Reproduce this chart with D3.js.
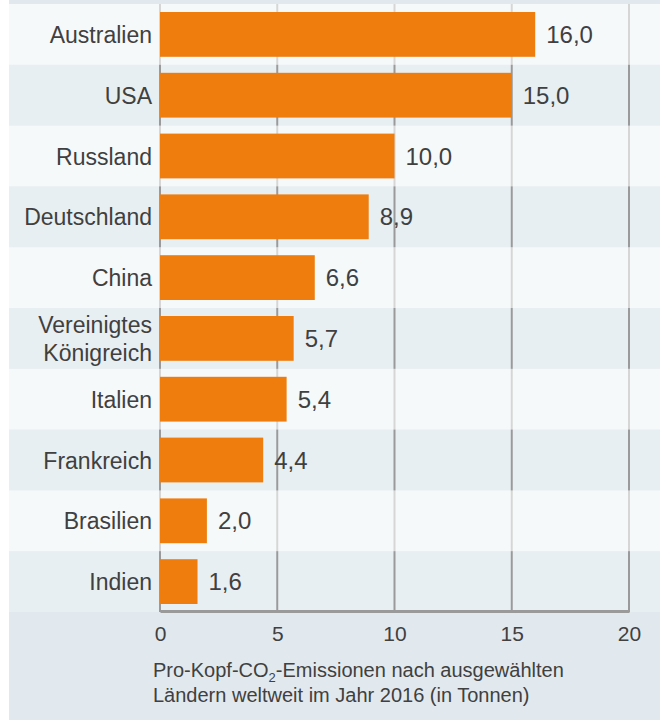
<!DOCTYPE html>
<html>
<head>
<meta charset="utf-8">
<script src="https://cdnjs.cloudflare.com/ajax/libs/d3/7.8.5/d3.min.js"></script>
<style>
  body { margin: 0; background: #fff; }
  text { font-family: "Liberation Sans", Arial, sans-serif; fill: #404040; }
</style>
</head>
<body>
<svg id="chart" width="660" height="720"></svg>
<script>
    // data
    var countries = ["Australien", "USA", "Russland", "Deutschland", "China",
                     "Vereinigtes Königreich", "Italien", "Frankreich", "Brasilien", "Indien"];
    var emissions = [16.0, 15.0, 10.0, 8.9, 6.6, 5.7, 5.4, 4.4, 2.0, 1.6];
    var xTicks = [0, 5, 10, 15, 20];
    var captionLines = ["Pro-Kopf-CO|2|-Emissionen nach ausgewählten",
                        "Ländern weltweit im Jahr 2016 (in Tonnen)"];

    var rows = countries.map(function(c, i) { return { name: c, value: emissions[i] }; });

    var svg = d3.select("#chart");
    var panelLeft = 9, panelRight = 660;

    var x = d3.scaleLinear().domain([0, 20]).range([160, 629]);
    var y = d3.scaleBand().domain(countries).range([4, 612]);
    var fmt = function(v) { return v.toFixed(1).replace(".", ","); };

    // panel background
    svg.append("rect")
        .attr("x", panelLeft).attr("y", 0)
        .attr("width", panelRight - panelLeft).attr("height", 720)
        .style("fill", "#e2e9ee");

    // row bands (dark colour everywhere first)
    svg.selectAll("rect.band")
        .data(rows)
        .enter()
        .append("rect")
        .attr("class", "band")
        .attr("x", panelLeft)
        .attr("y", function(d) { return y(d.name); })
        .attr("width", panelRight - panelLeft)
        .attr("height", y.bandwidth())
        .style("fill", "#e8eff2");

    // vertical grid lines
    svg.selectAll("line.grid")
        .data(xTicks)
        .enter()
        .append("line")
        .attr("class", "grid")
        .attr("x1", function(d) { return x(d); })
        .attr("x2", function(d) { return x(d); })
        .attr("y1", 4)
        .attr("y2", 612)
        .style("stroke", "#9a9a9a")
        .style("stroke-width", 2);

    // light rows wash over the grid lines
    svg.selectAll("rect.light")
        .data(rows.filter(function(d, i) { return i % 2 === 0; }))
        .enter()
        .append("rect")
        .attr("class", "light")
        .attr("x", panelLeft)
        .attr("y", function(d) { return y(d.name); })
        .attr("width", panelRight - panelLeft)
        .attr("height", y.bandwidth())
        .style("fill", "#fff")
        .style("fill-opacity", 0.6);

    // bars
    var barPad = 8;
    svg.selectAll("rect.bar")
        .data(rows)
        .enter()
        .append("rect")
        .attr("class", "bar")
        .attr("x", x(0))
        .attr("y", function(d) { return y(d.name) + barPad; })
        .attr("width", function(d) { return x(d.value) - x(0); })
        .attr("height", y.bandwidth() - 2 * barPad)
        .style("fill", "#ef7d0d");

    // value labels
    svg.selectAll("text.value")
        .data(rows)
        .enter()
        .append("text")
        .attr("class", "value")
        .attr("x", function(d) { return x(d.value) + 11; })
        .attr("y", function(d) { return y(d.name) + y.bandwidth() / 2 + 8.5; })
        .style("font-size", "24px")
        .text(function(d) { return fmt(d.value); });

    // category labels, wrapped where the reference wraps
    svg.selectAll("text.cat")
        .data(rows)
        .enter()
        .append("text")
        .attr("class", "cat")
        .attr("text-anchor", "end")
        .style("font-size", "23px")
        .each(function(d) {
            var parts = d.name === "Vereinigtes Königreich" ? ["Vereinigtes", "Königreich"] : [d.name];
            var cy = y(d.name) + y.bandwidth() / 2 + 8.5 - (parts.length - 1) * 14;
            var t = d3.select(this);
            parts.forEach(function(p, i) {
                t.append("tspan").attr("x", 152).attr("y", cy + i * 28).text(p);
            });
        });

    // x axis
    var axis = d3.axisBottom(x).tickValues(xTicks).tickSize(0).tickPadding(15);
    var gx = svg.append("g").attr("transform", "translate(0,611)").call(axis);
    gx.select(".domain").style("stroke", "#9a9a9a").style("stroke-width", 3);
    gx.selectAll(".tick text")
        .style("font-size", "21px")
        .style("font-family", "Liberation Sans, Arial, sans-serif")
        .style("fill", "#404040");

    // caption
    svg.selectAll("text.caption")
        .data(captionLines)
        .enter()
        .append("text")
        .attr("class", "caption")
        .attr("x", 153)
        .attr("y", function(d, i) { return 677 + i * 25; })
        .style("font-size", "20px")
        .each(function(d) {
            var t = d3.select(this);
            d.split("|").forEach(function(p, i) {
                if (i === 1) {
                    t.append("tspan").attr("dy", 5).style("font-size", "13px").text(p);
                } else if (i === 2) {
                    t.append("tspan").attr("dy", -5).text(p);
                } else {
                    t.append("tspan").text(p);
                }
            });
        });
</script>
</body>
</html>
